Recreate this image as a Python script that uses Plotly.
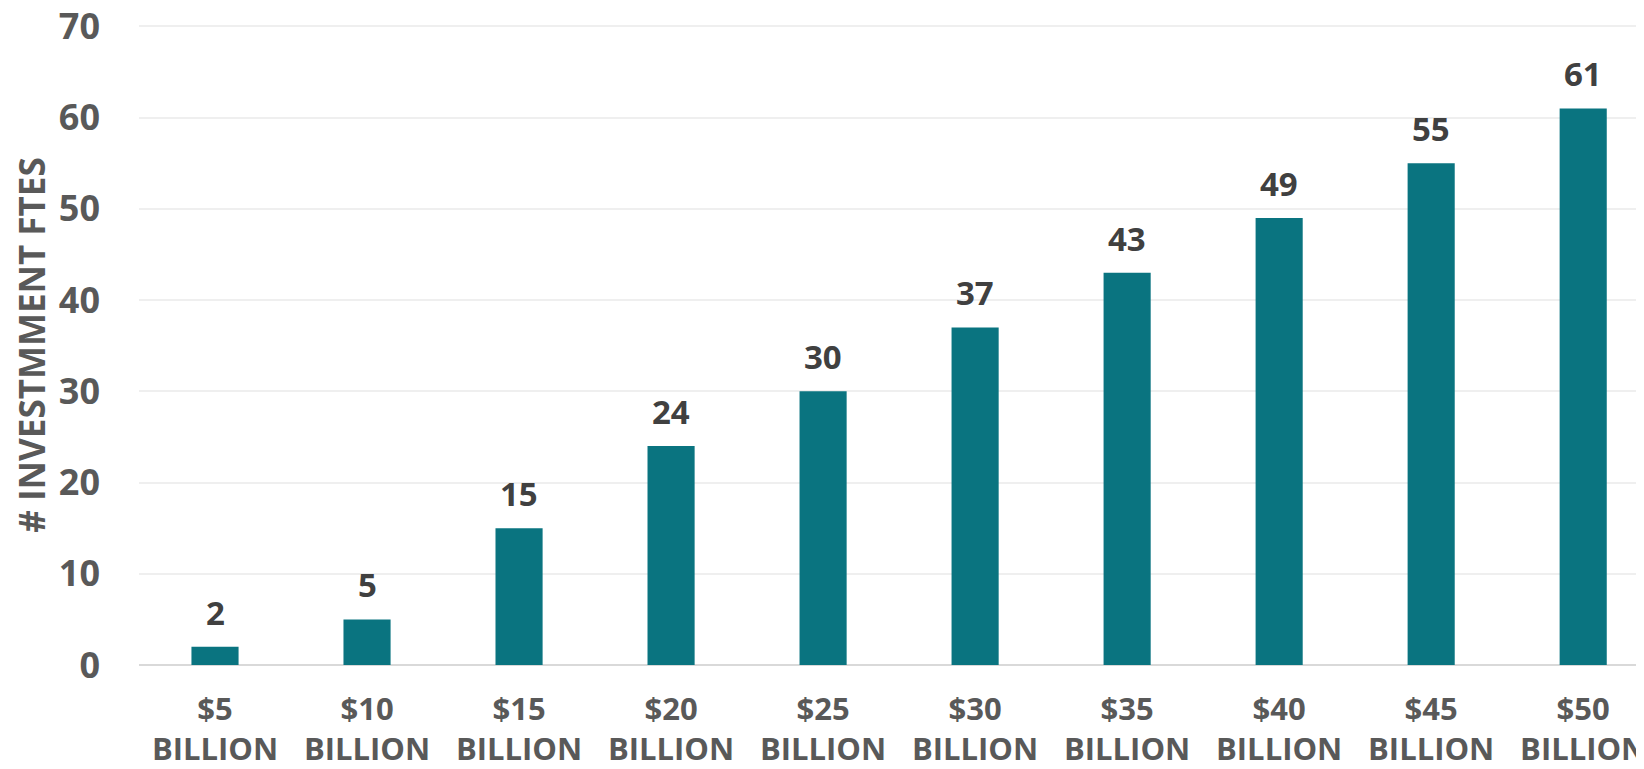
import plotly.graph_objects as go

categories = ["$5<br>BILLION", "$10<br>BILLION", "$15<br>BILLION", "$20<br>BILLION", "$25<br>BILLION",
              "$30<br>BILLION", "$35<br>BILLION", "$40<br>BILLION", "$45<br>BILLION", "$50<br>BILLION"]
ftes = [2, 5, 15, 24, 30, 37, 43, 49, 55, 61]
y_max = 70
y_step = 10

FONT = "Open Sans"
BAR = "#0A7480"

fig = go.Figure()
fig.add_trace(go.Bar(x=categories, y=ftes, marker=dict(color=BAR, line=dict(width=0)),
                     width=0.31, hoverinfo="skip"))

for c, v in zip(categories, ftes):
    fig.add_annotation(x=c, y=v, text=f"<b>{v}</b>", showarrow=False, yanchor="bottom",
                       yshift=10, font=dict(family=FONT, size=33, color="#404040"))

# page body has an 8px default margin; compensate so the plot area lands where the reference has it
fig.update_layout(
    width=1636, height=761,
    margin=dict(l=131, r=0, t=17, b=104),
    plot_bgcolor="white", paper_bgcolor="white",
    showlegend=False,
    font=dict(family=FONT),
    xaxis=dict(
        type="category", range=[-0.5, 9.40], automargin=False,
        tickfont=dict(family=FONT, size=31, color="#595959", weight="bold"),
        showgrid=False, showline=False, ticks="", ticklabelstandoff=23,
        ticklabeloverflow="allow",
    ),
    yaxis=dict(
        range=[0, y_max + 0.15], tick0=0, dtick=y_step, automargin=False,
        tickfont=dict(family=FONT, size=36, color="#595959", weight="bold"),
        showgrid=True, gridcolor="#EFEFEF", gridwidth=2,
        zeroline=True, zerolinecolor="#D9D9D9", zerolinewidth=2,
        ticks="", ticklabelstandoff=38, ticklabeloverflow="allow",
        title=dict(text="# INVESTMMENT FTES", standoff=40,
                   font=dict(family=FONT, size=35, color="#595959", weight="bold")),
    ),
)

fig.write_html("out.html")
